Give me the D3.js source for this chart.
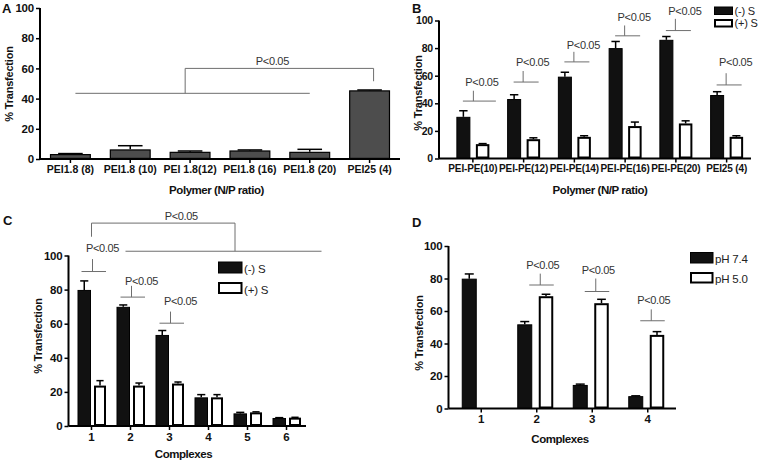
<!DOCTYPE html>
<html><head><meta charset="utf-8">
<script src="https://cdn.jsdelivr.net/npm/d3@7"></script>
<style>body{margin:0;background:#fff}svg{display:block}text{font-family:"Liberation Sans",Arial,sans-serif}</style>
</head><body>
<svg id="chart" width="762" height="463"></svg>
<script>
// ---------- data ----------
const yTicks = [0, 20, 40, 60, 80, 100];

const catsA = ["PEI1.8 (8)", "PEI1.8 (10)", "PEI 1.8(12)", "PEI1.8 (16)", "PEI1.8 (20)", "PEI25 (4)"];
const valsA = [3.3, 6.4, 4.8, 5.7, 4.8, 45.5];
const errsA = [0.3, 2.4, 0.5, 0.3, 1.6, 0.2];

const catsB = ["PEI-PE(10)", "PEI-PE(12)", "PEI-PE(14)", "PEI-PE(16)", "PEI-PE(20)", "PEI25 (4)"];
const minusSB = [30.2, 43.1, 59.3, 80.0, 86.0, 46.0];
const minusSBErr = [4.4, 3.1, 3.2, 4.8, 2.4, 2.4];
const plusSB = [10.4, 14.0, 15.7, 23.5, 25.4, 15.7];
const plusSBErr = [0.4, 1.0, 0.8, 2.9, 1.9, 0.8];
const sigLineB = [41.6, 55.4, 70.0, 88.9, 92.7, 53.3];
const sigTopB = [49.1, 63.4, 77.3, 96.4, 101.2, 61.8];
const sigTextB = [52.5, 67.2, 79.3, 99.6, 104.0, 66.7];

const catsC = ["1", "2", "3", "4", "5", "6"];
const minusSC = [79.8, 69.9, 53.4, 16.8, 7.4, 4.7];
const minusSCErr = [5.3, 1.1, 2.6, 1.6, 0.6, 0.2];
const plusSC = [23.7, 23.7, 24.9, 16.8, 8.0, 4.9];
const plusSCErr = [2.9, 1.5, 0.9, 1.6, 0.3, 0.2];
const sigLineC = [90.6, 75.6, 60.3];
const sigTopC = [97.9, 82.2, 67.1];
const sigTextC = [102.2, 82.8, 71.0];

const catsD = ["1", "2", "3", "4"];
const ph74 = [79.9, 51.8, 14.5, 7.6];
const ph74Err = [2.9, 1.7, 0.5, 0.2];
const ph50 = [null, 69.1, 64.8, 45.3];
const ph50Err = [null, 1.2, 2.4, 2.0];
const sigLineD = [null, 76.0, 72.0, 54.0];
const sigTopD = [null, 83.0, 80.0, 61.0];

const seriesNamesBC = ["(-) S", "(+) S"];
const seriesNamesD = ["pH 7.4", "pH 5.0"];
const sigText = "P<0.05";

// ---------- drawing ----------
const svg = d3.select("#chart");
const SIG = "#6e6e6e";
const FONT = "Liberation Sans, Arial, sans-serif";

function panel(o) {
  const g = svg.append("g");
  const y = d3.scaleLinear().domain([0, 100]).range([o.y0, o.y100]);
  const x = d3.scaleBand().domain(o.cats).range(o.band);
  // y axis
  const ya = g.append("g").attr("transform", `translate(${o.ax},0)`)
    .call(d3.axisLeft(y).tickValues(yTicks).tickSize(4).tickPadding(2));
  ya.select(".domain").attr("stroke", "#000").attr("stroke-width", 2)
    .attr("d", `M0,${o.y0}V${o.y100}`);
  ya.selectAll(".tick line").attr("stroke", "#000").attr("stroke-width", 1.5);
  ya.selectAll(".tick text").attr("font-size", o.yfs || 11.5).attr("font-weight", "bold").attr("fill", "#111")
    .attr("font-family", FONT).attr("letter-spacing", -0.2);
  // x axis
  const xa = g.append("g").attr("transform", `translate(0,${o.y0})`)
    .call(d3.axisBottom(x).tickSize(4).tickPadding(2.5));
  xa.select(".domain").attr("stroke", "#000").attr("stroke-width", 2)
    .attr("d", `M${o.ax},0H${o.axEnd}`);
  xa.selectAll(".tick line").attr("stroke", "#000").attr("stroke-width", 1.5);
  xa.selectAll(".tick text").attr("font-size", o.fs).attr("font-weight", "bold").attr("fill", "#111")
    .attr("font-family", FONT).attr("letter-spacing", o.ls);
  // titles
  g.append("text").attr("x", (o.titleX)).attr("y", o.titleY).attr("text-anchor", "middle")
    .attr("font-size", 11.5).attr("font-weight", "bold").attr("fill", "#111")
    .attr("letter-spacing", -0.45).text(o.xTitle);
  g.append("text").attr("transform", `translate(${o.ylX},${o.ylY}) rotate(-90)`)
    .attr("text-anchor", "middle").attr("font-size", 11).attr("font-weight", "bold").attr("fill", "#111")
    .attr("letter-spacing", -0.2).text("% Transfection");
  g.append("text").attr("x", o.letter[0]).attr("y", o.letter[1]).attr("font-size", 13)
    .attr("font-weight", "bold").attr("fill", "#111").text(o.letterText);
  // bars
  o.series.forEach(s => {
    o.cats.forEach((c, i) => {
      const v = s.vals[i];
      if (v == null) return;
      const cx = x(c) + x.bandwidth() / 2;
      const x0 = cx + s.off, w = s.w;
      const sw = s.stroke;
      const e = s.errs[i];
      if (e != null && e > 0) {
        g.append("line").attr("x1", x0 + w / 2).attr("x2", x0 + w / 2)
          .attr("y1", y(v)).attr("y2", y(v + e)).attr("stroke", "#000").attr("stroke-width", 1.5);
        g.append("line").attr("x1", x0 + w / 2 - w * 0.3).attr("x2", x0 + w / 2 + w * 0.3)
          .attr("y1", y(v + e)).attr("y2", y(v + e)).attr("stroke", "#000").attr("stroke-width", 1.5);
      }
      g.append("rect").attr("x", x0 + sw / 2).attr("y", y(v) + sw / 2)
        .attr("width", w - sw).attr("height", Math.max(0, y(0) - y(v) - sw))
        .attr("fill", s.fill).attr("stroke", "#000").attr("stroke-width", sw);
    });
  });
  return {g, x, y};
}

function pText(g, tx, ty) {
  g.append("text").attr("x", tx).attr("y", ty).attr("text-anchor", "middle").attr("font-size", 11)
    .attr("letter-spacing", -0.35).attr("fill", "#333").text(sigText);
}

function sigMark(g, x1, x2, xv, yl, yt, tx, ty) {
  g.append("line").attr("x1", x1).attr("x2", x2).attr("y1", yl).attr("y2", yl).attr("stroke", SIG).attr("stroke-width", 1);
  g.append("line").attr("x1", xv).attr("x2", xv).attr("y1", yl).attr("y2", yt).attr("stroke", SIG).attr("stroke-width", 1);
  pText(g, tx, ty);
}

function legend(g, x, yTop, names, fs, w, h, gap) {
  names.forEach((n, i) => {
    const yy = yTop + i * gap;
    g.append("rect").attr("x", x + (i ? 1 : 0.5)).attr("y", yy + (i ? 1 : 0.5))
      .attr("width", w - (i ? 2 : 1)).attr("height", h - (i ? 2 : 1))
      .attr("fill", i ? "#fff" : "#111").attr("stroke", "#000").attr("stroke-width", i ? 2 : 1);
    g.append("text").attr("x", x + w + 1.5).attr("y", yy + h - 0.5).attr("font-size", fs)
      .attr("letter-spacing", -0.2).attr("fill", "#222").text(n);
  });
}

// Panel A
{
  const p = panel({cats: catsA, band: [40.5, 399.5], ax: 40, axEnd: 400, y0: 159, y100: 8, fs: 10.5, ls: 0,
    xTitle: "Polymer (N/P ratio)", titleX: 216.5, titleY: 193.5, ylX: 13, ylY: 84,
    letter: [2, 13], letterText: "A",
    series: [{vals: valsA, errs: errsA, off: -20.5, w: 41, fill: "#4d4d4d", stroke: 1.2}]});
  const {g, x, y} = p;
  const c = i => x(catsA[i]) + x.bandwidth() / 2;
  const yl = y(43.5), yt = y(60);
  g.append("line").attr("x1", c(0) + 5).attr("x2", c(4)).attr("y1", yl).attr("y2", yl).attr("stroke", SIG);
  const xm = (c(2) + c(1)) / 2 + 25;
  g.append("line").attr("x1", xm).attr("x2", xm).attr("y1", yl).attr("y2", yt).attr("stroke", SIG);
  g.append("line").attr("x1", xm).attr("x2", c(5) + 4).attr("y1", yt).attr("y2", yt).attr("stroke", SIG);
  g.append("line").attr("x1", c(5) + 4).attr("x2", c(5) + 4).attr("y1", yt).attr("y2", y(51.5)).attr("stroke", SIG);
  pText(g, (xm + c(5)) / 2 - 5, y(62.5));
}

// Panel B
{
  const p = panel({cats: catsB, band: [447.5, 752], ax: 439, axEnd: 751, y0: 158.5, y100: 20.5, fs: 10, ls: -0.15,
    yfs: 10.5,
    xTitle: "Polymer (N/P ratio)", titleX: 600, titleY: 193.5, ylX: 422, ylY: 93,
    letter: [412, 12.5], letterText: "B",
    series: [
      {vals: minusSB, errs: minusSBErr, off: -16.5, w: 14, fill: "#111", stroke: 1},
      {vals: plusSB, errs: plusSBErr, off: 3, w: 13.5, fill: "#fff", stroke: 2}]});
  const {g, x, y} = p;
  catsB.forEach((c, i) => {
    const cx = x(c) + x.bandwidth() / 2;
    const x1 = cx - 10, x2 = cx + 15, xv = cx - 0.5;
    sigMark(g, x1, i === 0 ? x2 + 8 : x2, i === 0 ? xv + 1 : xv,
      y(sigLineB[i]), y(sigTopB[i]), cx + 9, y(sigTextB[i]));
  });
  legend(g, 714, 6.5, seriesNamesBC, 11, 19, 8.5, 12.5);
}

// Panel C
{
  const p = panel({cats: catsC, band: [72, 306], ax: 68.5, axEnd: 306, y0: 426, y100: 255.5, fs: 11.5, ls: 0,
    xTitle: "Complexes", titleX: 183.5, titleY: 458, ylX: 42, ylY: 336,
    letter: [3, 225], letterText: "C",
    series: [
      {vals: minusSC, errs: minusSCErr, off: -14, w: 13.5, fill: "#111", stroke: 1},
      {vals: plusSC, errs: plusSCErr, off: 2.5, w: 12, fill: "#fff", stroke: 2}]});
  const {g, x, y} = p;
  sigLineC.forEach((lv, i) => {
    const cx = x(catsC[i]) + x.bandwidth() / 2;
    sigMark(g, cx - 10, cx + 14.5, cx + 1, y(lv), y(sigTopC[i]), cx + 11, y(sigTextC[i]));
  });
  // overall bracket
  const c1 = x(catsC[0]) + x.bandwidth() / 2;
  const yTop = y(119), yLeft = y(111), yRight = y(102.5);
  const xr = c1 + 143.5;
  g.append("line").attr("x1", c1).attr("x2", xr).attr("y1", yTop).attr("y2", yTop).attr("stroke", SIG);
  g.append("line").attr("x1", c1).attr("x2", c1).attr("y1", yTop).attr("y2", yLeft).attr("stroke", SIG);
  g.append("line").attr("x1", xr).attr("x2", xr).attr("y1", yTop).attr("y2", yRight).attr("stroke", SIG);
  g.append("line").attr("x1", c1 + 34).attr("x2", 321.5).attr("y1", yRight).attr("y2", yRight).attr("stroke", SIG);
  pText(g, (c1 + xr) / 2 + 18, yTop - 3.5);
  legend(g, 218, 261.5, seriesNamesBC, 11.5, 24.5, 12, 20.5);
}

// Panel D
{
  const p = panel({cats: catsD, band: [453.5, 675.5], ax: 448.5, axEnd: 676, y0: 408.5, y100: 246, fs: 11.5, ls: 0,
    xTitle: "Complexes", titleX: 560, titleY: 443, ylX: 423, ylY: 333,
    letter: [412, 226.5], letterText: "D",
    series: [
      {vals: ph74, errs: ph74Err, off: -19.5, w: 15, fill: "#111", stroke: 1},
      {vals: ph50, errs: ph50Err, off: 2, w: 14.5, fill: "#fff", stroke: 2}]});
  const {g, x, y} = p;
  catsD.forEach((c, i) => {
    if (sigLineD[i] == null) return;
    const cx = x(c) + x.bandwidth() / 2;
    sigMark(g, cx - 7.5, cx + 17, cx + 3.5, y(sigLineD[i]), y(sigTopD[i]), cx + 6, y(sigTopD[i]) - 5);
  });
  legend(g, 690, 252, seriesNamesD, 11.5, 23.5, 11.5, 20);
}
</script>
</body></html>
